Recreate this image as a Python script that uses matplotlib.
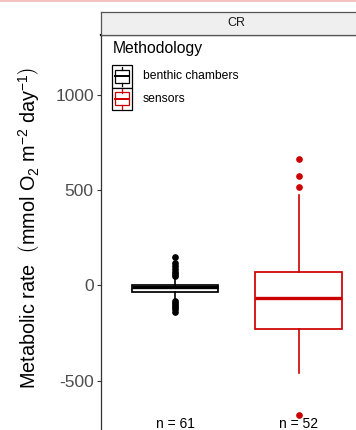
import matplotlib
matplotlib.use("Agg")
import matplotlib.pyplot as plt
from matplotlib.patches import Rectangle
from matplotlib.lines import Line2D

plt.rcParams['font.family'] = ['Liberation Sans', 'DejaVu Sans']
plt.rcParams['mathtext.fontset'] = 'custom'
plt.rcParams['mathtext.rm'] = 'Liberation Sans'
plt.rcParams['mathtext.it'] = 'Liberation Sans:italic'
plt.rcParams['mathtext.bf'] = 'Liberation Sans:bold'

# ---- data ----
methods = ["benthic chambers", "sensors"]
colors = ["#000000", "#CD0000"]
facet = "CR"
n_counts = [61, 52]
q1 = [-35, -229]
med = [-7, -68]
q3 = [-1, 68]
whis_lo = [-77, -462]
whis_hi = [45, 474]
fliers_chambers = [150, 115, 100, 85, 72, 60, 50, -85, -95, -105, -115, -127, -142]
fliers_sensors = [661, 575, 517, -680]
yticks = [-500, 0, 500, 1000]
y_limits = (-833, 1313)

W, H = 356, 430
fig = plt.figure(figsize=(W / 100, H / 100), dpi=100)

def fx(x):
    return x / W

def fy(y):
    return 1 - y / H

# panel
pl, pr, pt, pb = 100.7, 373.0, 35.0, 444.0
ax = fig.add_axes([fx(pl), fy(pb), fx(pr - pl), (pb - pt) / H])
ax.set_xlim(0.4, 2.6)
ax.set_ylim(*y_limits)

stats = []
for i, fl in enumerate([fliers_chambers, fliers_sensors]):
    stats.append(dict(med=med[i], q1=q1[i], q3=q3[i], whislo=whis_lo[i],
                      whishi=whis_hi[i], fliers=fl, label=methods[i]))

for i, st in enumerate(stats):
    c = colors[i]
    ax.bxp([st], positions=[i + 1], widths=0.7, patch_artist=True, showcaps=False,
           boxprops=dict(facecolor="white", edgecolor=c, linewidth=1.25),
           medianprops=dict(color=c, linewidth=2.4, solid_capstyle="butt"),
           whiskerprops=dict(color=c, linewidth=1.2),
           flierprops=dict(marker="o", markerfacecolor=c, markeredgecolor=c,
                           markersize=3.8, linestyle="none"))

for i, n in enumerate(n_counts):
    ax.text(i + 1, -728, f"n = {n}", ha="center", va="center", fontsize=10, color="black")

ax.set_xticks([])
ax.set_yticks(yticks)
ax.set_yticklabels([str(t) for t in yticks])
ax.tick_params(axis="y", length=3, width=0.8, color="#333333", labelsize=12.5,
               labelcolor="#4d4d4d", pad=2)
for s in ["right", "bottom"]:
    ax.spines[s].set_visible(False)
ax.spines["left"].set_color("#333333")
ax.spines["left"].set_linewidth(0.9)
ax.spines["top"].set_color("#000000")
ax.spines["top"].set_linewidth(1.6)

# strip
sax = fig.add_axes([fx(pl), fy(35), fx(pr - pl), 23 / H])
sax.set_facecolor("#efefef")
sax.set_xticks([])
sax.set_yticks([])
for s in sax.spines.values():
    s.set_color("#555555")
    s.set_linewidth(0.9)
sax.text(0.5, 0.5, facet, transform=sax.transAxes, ha="center", va="center",
         fontsize=9, color="#1a1a1a")

# y label
fig.text(fx(29), fy(228),
         r"Metabolic rate  $\left(\mathrm{mmol\ O_2\ m^{-2}\ day^{-1}}\right)$",
         rotation=90, ha="center", va="center", fontsize=14.3)

# legend
fig.text(fx(112.5), fy(48), "Methodology", ha="left", va="center", fontsize=11.3)
kx0, kw, kh = 112.3, 20, 22.5
for i, (lab, c) in enumerate(zip(methods, colors)):
    ky0 = 65 + i * kh
    fig.add_artist(Rectangle((fx(kx0), fy(ky0 + kh)), fx(kw), kh / H,
                             transform=fig.transFigure, facecolor="white",
                             edgecolor="black", linewidth=0.9))
    cx = kx0 + kw / 2
    bx0, bx1 = kx0 + 3, kx0 + kw - 3
    by0, by1 = ky0 + 5, ky0 + kh - 5
    fig.add_artist(Line2D([fx(cx), fx(cx)], [fy(ky0 + 1.5), fy(by0)],
                          transform=fig.transFigure, color=c, linewidth=0.9))
    fig.add_artist(Line2D([fx(cx), fx(cx)], [fy(by1), fy(ky0 + kh - 1.5)],
                          transform=fig.transFigure, color=c, linewidth=0.9))
    fig.add_artist(Rectangle((fx(bx0), fy(by1)), fx(bx1 - bx0), (by1 - by0) / H,
                             transform=fig.transFigure, facecolor="white",
                             edgecolor=c, linewidth=0.9))
    fig.add_artist(Line2D([fx(bx0), fx(bx1)], [fy(ky0 + kh / 2), fy(ky0 + kh / 2)],
                          transform=fig.transFigure, color=c, linewidth=1.4))
    fig.text(fx(143), fy(ky0 + kh / 2), lab, ha="left", va="center", fontsize=8.7,
             color="black")

# thin pink line at the top edge
fig.add_artist(Rectangle((0, fy(2)), 1, 2 / H, transform=fig.transFigure,
                         facecolor="#f4c4c4", edgecolor="none"))

fig.savefig("out.png", dpi=100)
